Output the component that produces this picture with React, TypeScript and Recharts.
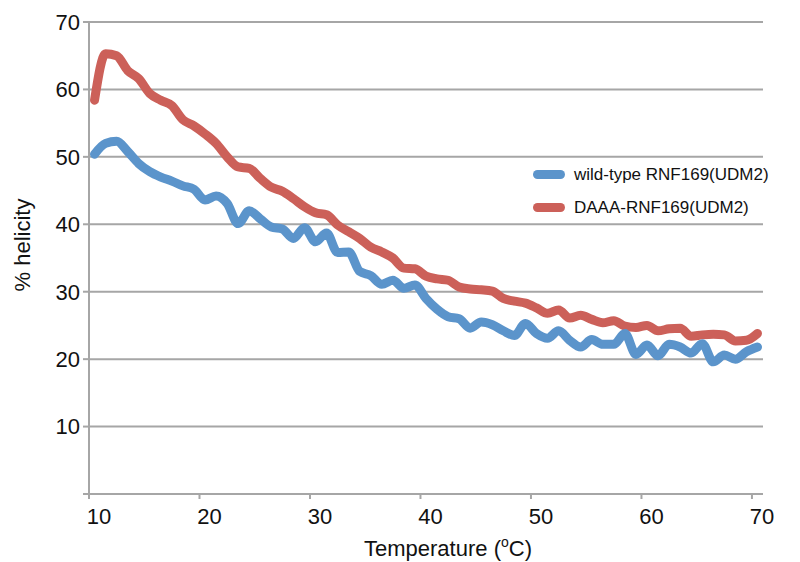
import { LineChart, Line, XAxis, YAxis, CartesianGrid } from "recharts";

const temperatures = [
  10.5, 11.5, 12.5, 13.5, 14.5, 15.5, 16.5, 17.5, 18.5, 19.5, 20.5, 21.5, 22.5,
  23.5, 24.5, 25.5, 26.5, 27.5, 28.5, 29.5, 30.5, 31.5, 32.5, 33.5, 34.5, 35.5,
  36.5, 37.5, 38.5, 39.5, 40.5, 41.5, 42.5, 43.5, 44.5, 45.5, 46.5, 47.5, 48.5,
  49.5, 50.5, 51.5, 52.5, 53.5, 54.5, 55.5, 56.5, 57.5, 58.5, 59.5, 60.5, 61.5,
  62.5, 63.5, 64.5, 65.5, 66.5, 67.5, 68.5, 69.5, 70.5,
];

const wildType = [
  50.4, 52.0, 52.3, 50.8, 49.0, 47.8, 47.0, 46.4, 45.7, 45.2, 43.6, 44.2, 43.1,
  40.1, 42.0, 40.8, 39.6, 39.3, 37.9, 39.5, 37.4, 38.7, 35.8, 35.9, 33.0, 32.4,
  31.1, 31.7, 30.5, 31.0, 29.0, 27.4, 26.3, 26.0, 24.6, 25.5, 25.1, 24.2, 23.5,
  25.3, 23.8, 23.1, 24.2, 22.8, 21.8, 22.9, 22.2, 22.2, 23.8, 20.7, 22.1, 20.5,
  22.2, 21.8, 20.9, 22.3, 19.6, 20.6, 20.0, 21.1, 21.8,
];

const daaa = [
  58.4, 65.3, 65.0, 62.8, 61.6, 59.4, 58.4, 57.6, 55.5, 54.6, 53.4, 52.0, 50.0,
  48.5, 48.3, 46.8, 45.5, 44.9, 43.8, 42.6, 41.7, 41.4, 39.9, 38.9, 37.9, 36.6,
  35.9, 35.0, 33.5, 33.4, 32.3, 31.9, 31.7, 30.7, 30.4, 30.3, 30.1, 29.0, 28.6,
  28.3, 27.6, 26.8, 27.3, 26.1, 26.5, 25.9, 25.4, 25.7, 24.9, 24.7, 25.0, 24.2,
  24.5, 24.6, 23.4, 23.6, 23.7, 23.6, 22.7, 22.8, 23.8,
];

const xTicks = [10, 20, 30, 40, 50, 60, 70];
const yTicks = [0, 10, 20, 30, 40, 50, 60, 70];

const series = [
  { key: "wildType", name: "wild-type RNF169(UDM2)", color: "#5b94cb" },
  { key: "daaa", name: "DAAA-RNF169(UDM2)", color: "#cc6059" },
];

const data = temperatures.map((t, i) => ({
  temp: t,
  wildType: wildType[i],
  daaa: daaa[i],
}));

const FONT = "'Liberation Sans', Arial, Helvetica, sans-serif";
const GRID = "#a6a6a6";

// legend sits inside the plot area, so it is drawn as an overlay
function LegendBox() {
  return (
    <div
      style={{
        position: "absolute",
        left: 533,
        top: 158,
        fontFamily: FONT,
        fontSize: 17,
        color: "#111",
      }}
    >
      {series.map((s) => (
        <div
          key={s.key}
          style={{ display: "flex", alignItems: "center", height: 33 }}
        >
          <span
            style={{
              display: "inline-block",
              width: 32,
              height: 9,
              borderRadius: 5,
              background: s.color,
              marginRight: 9,
            }}
          />
          <span>{s.name}</span>
        </div>
      ))}
    </div>
  );
}

export default function App() {
  return (
    <div
      style={{
        position: "absolute",
        left: 0,
        top: 0,
        width: 800,
        height: 562,
        background: "#fff",
      }}
    >
      <LineChart
        width={800}
        height={562}
        data={data}
        margin={{ top: 22, right: 37, bottom: 38, left: 0 }}
      >
        <CartesianGrid
          horizontal
          vertical={false}
          stroke={GRID}
          strokeWidth={2}
        />
        <XAxis
          dataKey="temp"
          type="number"
          domain={[10, 71]}
          ticks={xTicks}
          allowDataOverflow
          height={30}
          stroke={GRID}
          strokeWidth={2}
          tickSize={5}
          tickMargin={9}
          tick={{ fill: "#111", fontSize: 22, fontFamily: FONT, dx: 10 }}
          label={{
            value: "Temperature (oC)",
            content: () => (
              <text
                x={448}
                y={556}
                textAnchor="middle"
                fill="#111"
                fontSize={22}
                fontFamily={FONT}
              >
                Temperature (
                <tspan fontSize={14} dy={-9}>
                  o
                </tspan>
                <tspan dy={9}>C)</tspan>
              </text>
            ),
          }}
        />
        <YAxis
          type="number"
          domain={[0, 70]}
          ticks={yTicks}
          width={89}
          stroke={GRID}
          strokeWidth={2}
          tickSize={6}
          tickMargin={3}
          tickFormatter={(v: number) => (v === 0 ? "" : String(v))}
          tick={{ fill: "#111", fontSize: 22, fontFamily: FONT }}
          label={{
            value: "% helicity",
            content: () => (
              <text
                x={30}
                y={245}
                transform="rotate(-90 30 245)"
                textAnchor="middle"
                fill="#111"
                fontSize={22}
                fontFamily={FONT}
              >
                % helicity
              </text>
            ),
          }}
        />
        {[...series].reverse().map((s) => (
          <Line
            key={s.key}
            type="monotone"
            dataKey={s.key}
            name={s.name}
            stroke={s.color}
            strokeWidth={9}
            strokeLinecap="round"
            strokeLinejoin="round"
            dot={false}
            activeDot={false}
            isAnimationActive={false}
          />
        ))}
      </LineChart>
      <LegendBox />
    </div>
  );
}
